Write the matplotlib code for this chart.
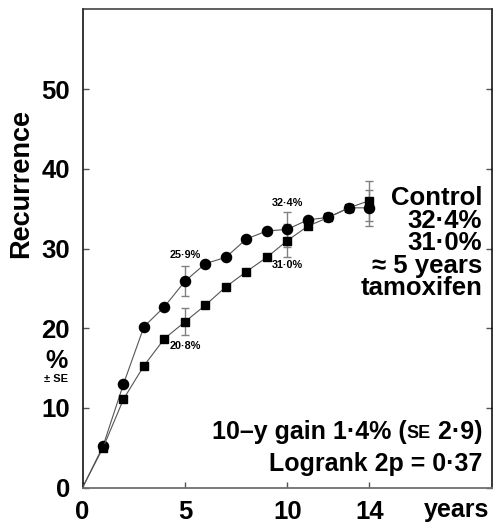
import matplotlib
matplotlib.use("Agg")
import matplotlib.pyplot as plt

plt.rcParams['font.family'] = ['Liberation Sans', 'DejaVu Sans']
plt.rcParams['font.weight'] = 'bold'

# recurrence (%) by year since randomisation
years = [0, 1, 2, 3, 4, 5, 6, 7, 8, 9, 10, 11, 12, 13, 14]
control = [0, 5.2, 13.0, 20.2, 22.7, 25.9, 28.1, 28.9, 31.2, 32.2, 32.4, 33.6, 33.9, 35.1, 35.1]
tamoxifen = [0, 5.0, 11.1, 15.3, 18.7, 20.8, 22.9, 25.2, 27.1, 28.9, 31.0, 32.8, 33.9, 35.1, 36.0]

# standard errors shown at selected years
se_years = [5, 10, 14]
control_se = [1.9, 2.2, 2.25]
tamoxifen_se = [1.7, 2.1, 2.5]

# years that get a value label
label_years = [5, 10]

xticks = [0, 5, 10, 14]
yticks = [0, 10, 20, 30, 40, 50]

W, H = 494, 523
fig = plt.figure(figsize=(W / 100, H / 100), dpi=100)
ax = fig.add_axes([82.5 / W, 1 - 487.7 / H, (492.3 - 82.5) / W, (487.7 - 9.3) / H])
ax.set_xlim(0, 20)
ax.set_ylim(0, 60)

line_col = '#555555'
err_col = '#808080'

ax.plot(years, control, color=line_col, lw=0.8, marker='o', ms=7.3,
        mfc='black', mec='black', markevery=list(range(1, len(years))), zorder=3)
ax.plot(years, tamoxifen, color=line_col, lw=0.8, marker='s', ms=6,
        mfc='black', mec='black', markevery=list(range(1, len(years))), zorder=3)

c_at = [control[years.index(y)] for y in se_years]
t_at = [tamoxifen[years.index(y)] for y in se_years]
ax.errorbar(se_years, c_at, yerr=control_se, fmt='none', ecolor=err_col,
            elinewidth=1, capsize=3, capthick=1, zorder=2)
ax.errorbar(se_years, t_at, yerr=tamoxifen_se, fmt='none', ecolor=err_col,
            elinewidth=1, capsize=3, capthick=1, zorder=2)


def pct(v):
    return f"{v:.1f}%".replace('.', '\u00b7')


for y in label_years:
    cv = control[years.index(y)]
    tv = tamoxifen[years.index(y)]
    ax.annotate(pct(cv), (y, cv), xytext=(0, 19), textcoords='offset points',
                ha='center', va='center', fontsize=7.8)
    ax.annotate(pct(tv), (y, tv), xytext=(0, -17.5), textcoords='offset points',
                ha='center', va='center', fontsize=7.8)

# axes styling
for side in ['left', 'right']:
    ax.spines[side].set_color('black')
    ax.spines[side].set_linewidth(1.1)
ax.spines['top'].set_color('#333333')
ax.spines['top'].set_linewidth(1.1)
ax.spines['bottom'].set_color('#707070')
ax.spines['bottom'].set_linewidth(1.3)

ax.set_xticks(xticks)
ax.set_yticks(yticks)
ax.tick_params(axis='both', direction='in', length=4.5, width=1, colors='#555555',
               labelsize=18.5, labelcolor='black')
ax.tick_params(axis='y', pad=9, right=True, labelright=False)
ax.tick_params(axis='x', pad=9)
for lab in ax.get_xticklabels() + ax.get_yticklabels():
    lab.set_fontweight('bold')

ax.annotate('years', xy=((457 - 82.5) / 409.8, 0), xycoords='axes fraction',
            xytext=(0, -21), textcoords='offset points', ha='center',
            va='baseline', fontsize=18)

fig.text(21 / W, 1 - 184 / H, 'Recurrence', rotation=90, ha='center',
         va='center', fontsize=19.5)
fig.text(56.5 / W, 1 - 361 / H, '%', ha='center', va='center', fontsize=18)
fig.text(56 / W, 1 - 379.5 / H, '\u00b1 SE', ha='center', va='center', fontsize=8)


def yfrac(py):
    return (487.7 - py) / 478.4


xr = (482 - 82.5) / 409.8
right_lines = ['Control', pct(control[years.index(10)]),
               pct(tamoxifen[years.index(10)]), '\u2248 5 years', 'tamoxifen']
for i, s in enumerate(right_lines):
    ax.text(xr, yfrac(205 + 22.5 * i), s, transform=ax.transAxes, ha='right',
            va='baseline', fontsize=18.5)

# bottom-right summary; "SE" set in small capitals
fig.canvas.draw()
rend = fig.canvas.get_renderer()
y1 = yfrac(438.5)
t3 = ax.text(xr, y1, ' 2\u00b79)', transform=ax.transAxes, ha='right',
             va='baseline', fontsize=18)
w3 = t3.get_window_extent(rend).width / 409.8
t2 = ax.text(xr - w3, y1, 'SE', transform=ax.transAxes, ha='right',
             va='baseline', fontsize=13)
w2 = t2.get_window_extent(rend).width / 409.8
ax.text(xr - w3 - w2, y1, '10\u2013y gain 1\u00b74% (', transform=ax.transAxes,
        ha='right', va='baseline', fontsize=18)
ax.text(xr, yfrac(470.5), 'Logrank 2p = 0\u00b737', transform=ax.transAxes,
        ha='right', va='baseline', fontsize=18)

fig.savefig('out.png', dpi=100)
